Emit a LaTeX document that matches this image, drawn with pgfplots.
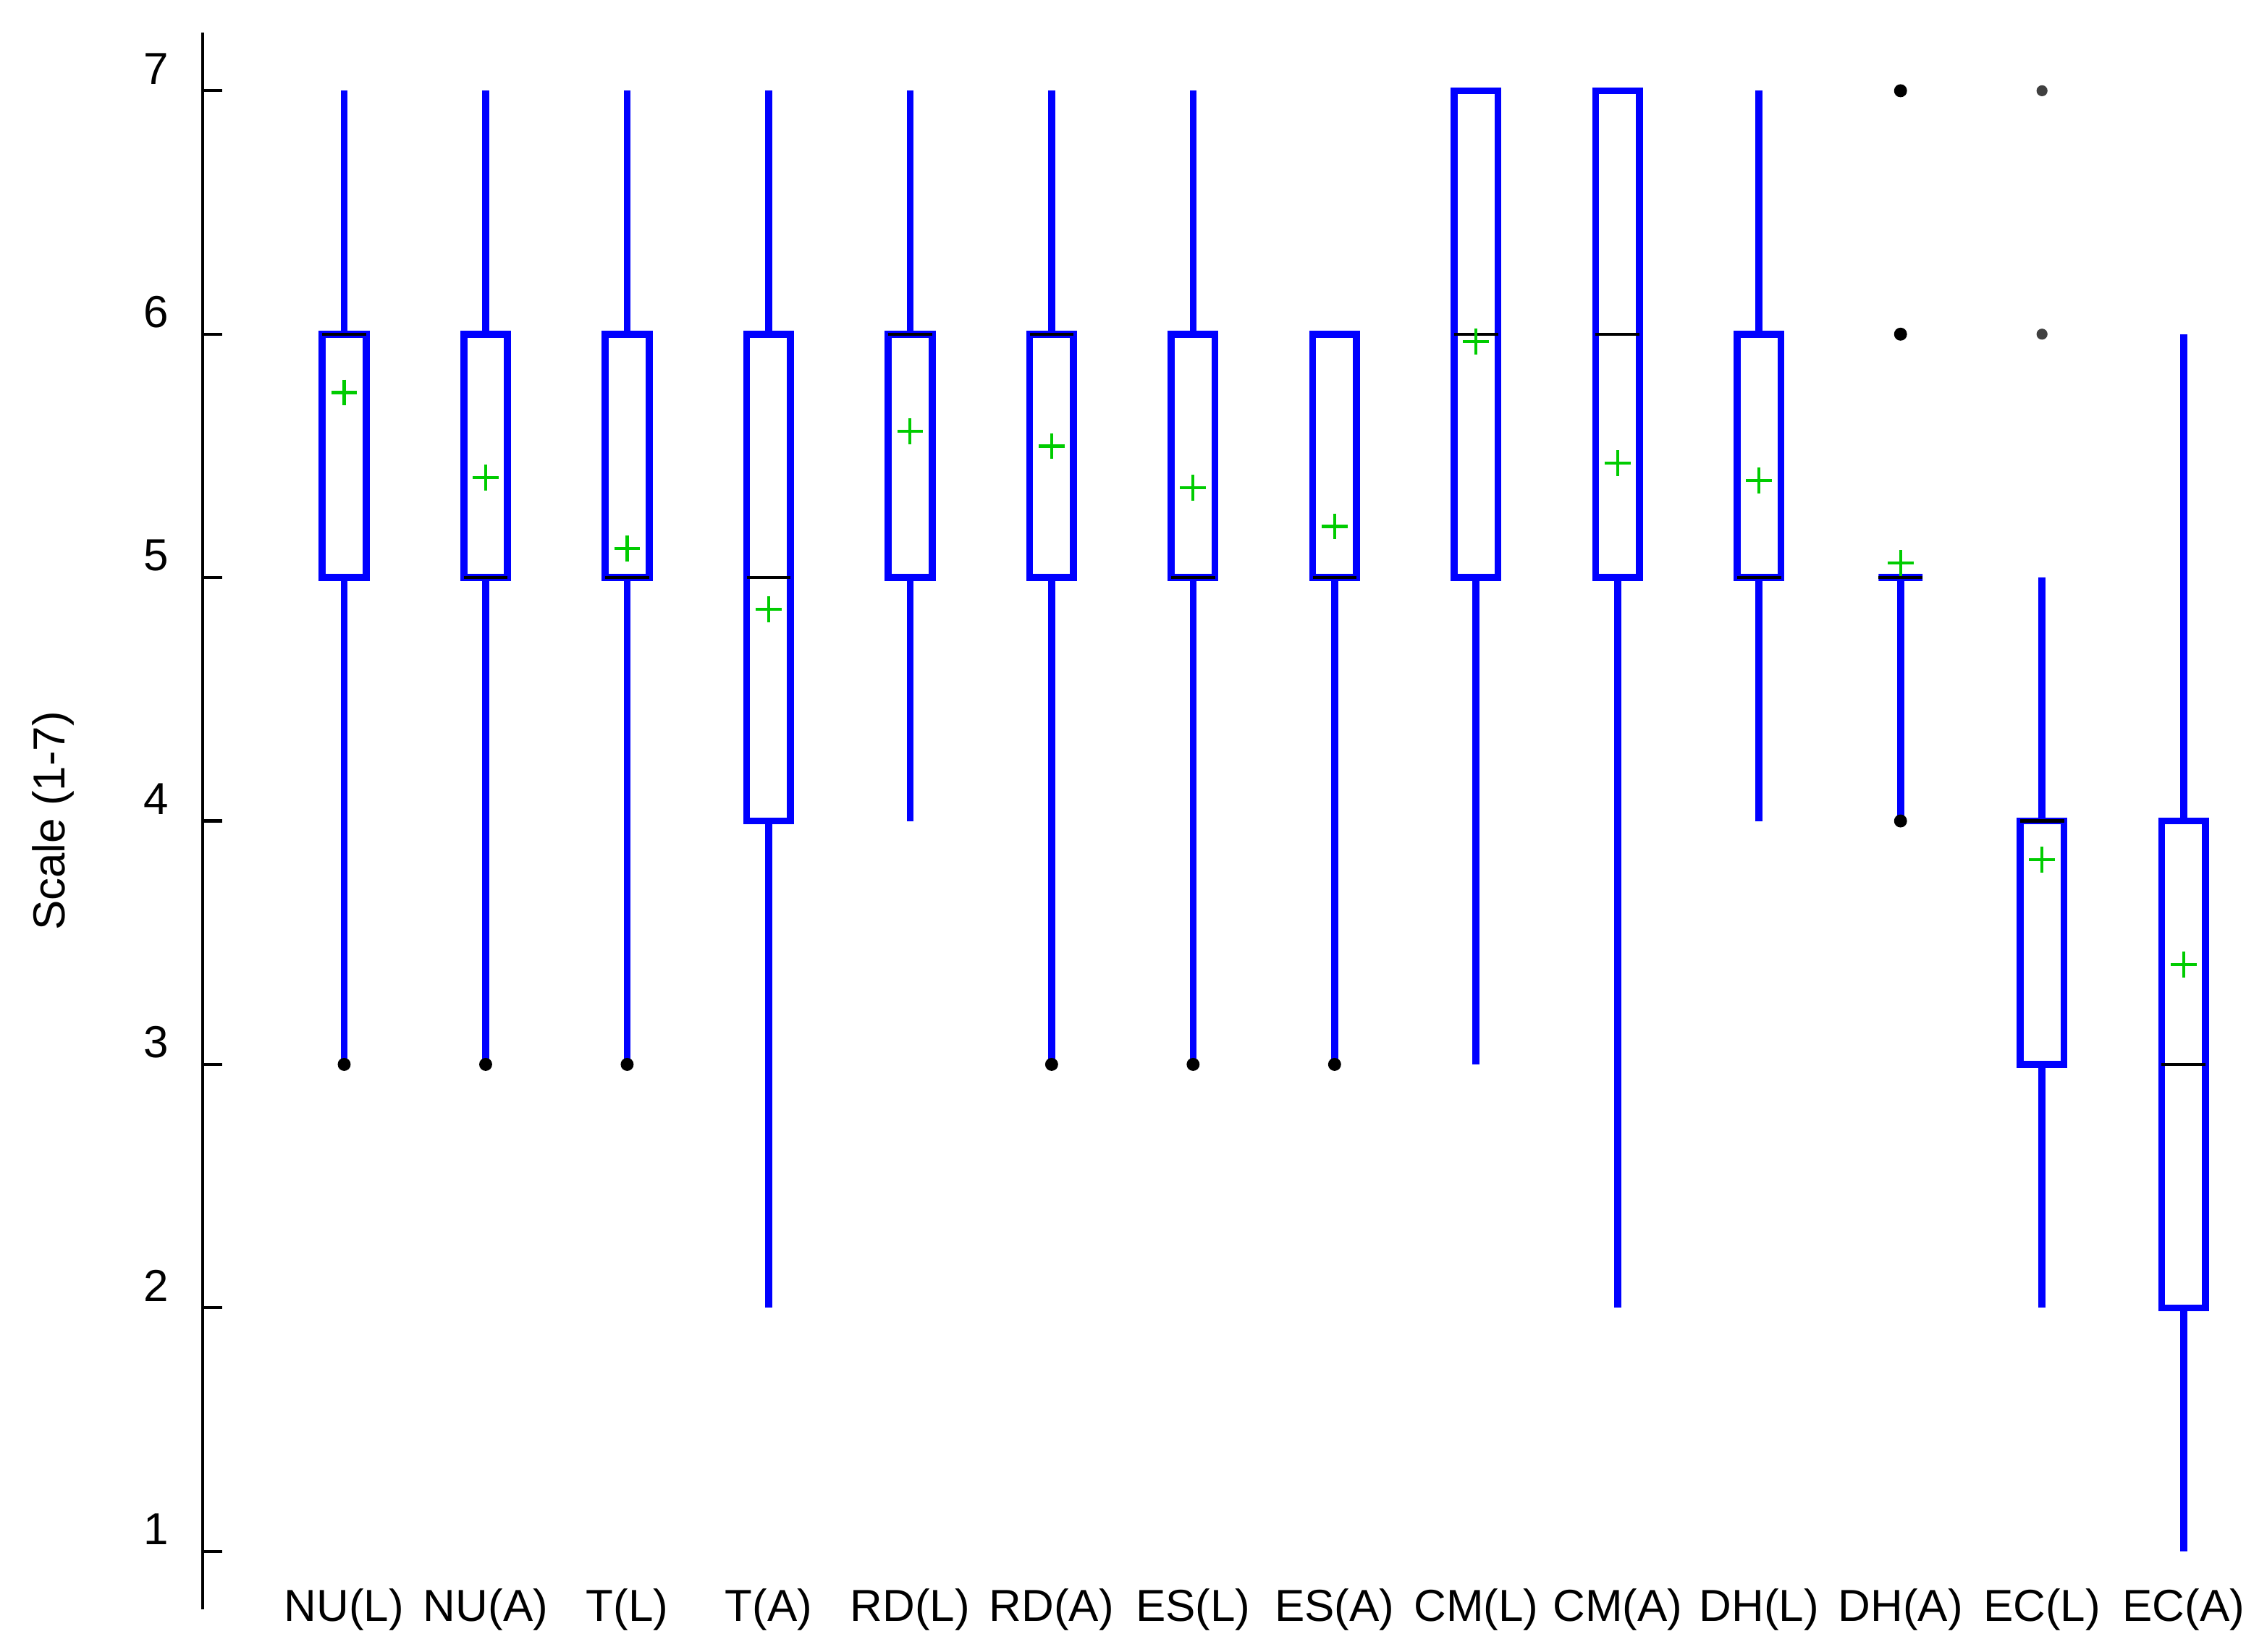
\documentclass[border=0pt]{standalone}
\usepackage{fontspec}
\setmainfont{Liberation Sans}
\usepackage{pgfplots}
\pgfplotsset{compat=1.18}
\usepgfplotslibrary{statistics}
\definecolor{mgreen}{rgb}{0,0.8,0}
\begin{document}
\begin{tikzpicture}
\begin{axis}[
  at={(0,0)}, anchor=south west,
  scale only axis,
  width=414.5pt, height=316.8pt,
  xmin=0, xmax=14.59,
  ymin=0.76, ymax=7.24,
  axis y line*=left, axis x line*=bottom,
  x axis line style={draw=none},
  y axis line style={line width=0.6pt},
  xtick={1,...,14},
  xticklabels={NU(L),NU(A),T(L),T(A),RD(L),RD(A),ES(L),ES(A),CM(L),CM(A),DH(L),DH(A),EC(L),EC(A)},
  xtick style={draw=none},
  ytick={1,...,7},
  ytick style={line width=0.6pt, black},
  tick align=inside,
  major tick length=3.9pt,
  /pgf/number format/assume math mode=true,
  tick label style={font=\fontsize{9}{10}\selectfont},
  xticklabel style={anchor=center},
  yticklabel style={anchor=center, xshift=-9.3pt, yshift=4.4pt},
  ylabel={Scale (1-7)},
  ylabel style={at={(axis description cs:-0.0724,0.5)}, anchor=center, font=\fontsize{9}{10}\selectfont},
  clip=false,
  boxplot/draw direction=y,
  boxplot/every median/.style={black, line width=0.6pt},
  boxplot/box extend=0.31,
  boxplot/whisker extend=0,
]
\pgfplotsset{bx/.style={blue, line width=1.4pt, solid}}
\addplot[bx, boxplot prepared={draw position=1, lower whisker=3, lower quartile=5, median=6, upper quartile=6, upper whisker=7}] coordinates {};
\addplot[bx, boxplot prepared={draw position=2, lower whisker=3, lower quartile=5, median=5, upper quartile=6, upper whisker=7}] coordinates {};
\addplot[bx, boxplot prepared={draw position=3, lower whisker=3, lower quartile=5, median=5, upper quartile=6, upper whisker=7}] coordinates {};
\addplot[bx, boxplot prepared={draw position=4, lower whisker=2, lower quartile=4, median=5, upper quartile=6, upper whisker=7}] coordinates {};
\addplot[bx, boxplot prepared={draw position=5, lower whisker=4, lower quartile=5, median=6, upper quartile=6, upper whisker=7}] coordinates {};
\addplot[bx, boxplot prepared={draw position=6, lower whisker=3, lower quartile=5, median=6, upper quartile=6, upper whisker=7}] coordinates {};
\addplot[bx, boxplot prepared={draw position=7, lower whisker=3, lower quartile=5, median=5, upper quartile=6, upper whisker=7}] coordinates {};
\addplot[bx, boxplot prepared={draw position=8, lower whisker=3, lower quartile=5, median=5, upper quartile=6, upper whisker=6}] coordinates {};
\addplot[bx, boxplot prepared={draw position=9, lower whisker=3, lower quartile=5, median=6, upper quartile=7, upper whisker=7}] coordinates {};
\addplot[bx, boxplot prepared={draw position=10, lower whisker=2, lower quartile=5, median=6, upper quartile=7, upper whisker=7}] coordinates {};
\addplot[bx, boxplot prepared={draw position=11, lower whisker=4, lower quartile=5, median=5, upper quartile=6, upper whisker=7}] coordinates {};
\addplot[bx, boxplot prepared={draw position=12, lower whisker=4, lower quartile=5, median=5, upper quartile=5, upper whisker=5}] coordinates {};
\addplot[bx, boxplot prepared={draw position=13, lower whisker=2, lower quartile=3, median=4, upper quartile=4, upper whisker=5}] coordinates {};
\addplot[bx, boxplot prepared={draw position=14, lower whisker=1, lower quartile=2, median=3, upper quartile=4, upper whisker=6}] coordinates {};
% outliers
\addplot[only marks, mark=*, mark size=1.1pt, black] coordinates {
(1,3) (2,3) (3,3) (6,3) (7,3) (8,3) (12,4) (12,6) (12,7)};
\addplot[only marks, mark=*, mark size=0.9pt, black!75] coordinates {(13,6) (13,7)};
% means
\addplot[only marks, mark=+, mark size=2.6pt, mgreen, mark options={line width=0.6pt}] coordinates {
(1,5.76) (2,5.41) (3,5.12) (4,4.87) (5,5.60) (6,5.54) (7,5.37) (8,5.21) (9,5.97) (10,5.47) (11,5.40) (12,5.06) (13,3.84) (14,3.41)};
\end{axis}
\path (-40.7pt,-8.4pt) rectangle (414.5pt,323.3pt);
\end{tikzpicture}
\end{document}
